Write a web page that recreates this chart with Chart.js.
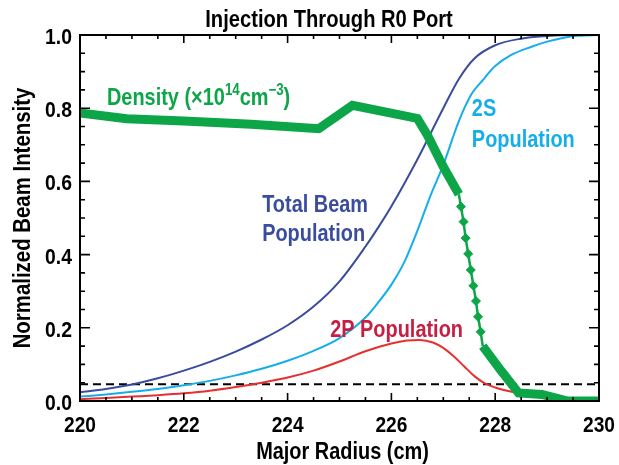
<!DOCTYPE html>
<html><head><meta charset="utf-8">
<script src="https://cdn.jsdelivr.net/npm/chart.js@4.4.1/dist/chart.umd.min.js"></script>
<style>html,body{margin:0;padding:0;background:#fff;}canvas{display:block;}</style>
</head><body>
<canvas id="c" width="619" height="465" style="width:619px;height:465px"></canvas>
<script>
const FONT = '"Liberation Sans", Arial, Helvetica, sans-serif';

// ---- data ----
const xTicks = [220, 222, 224, 226, 228, 230];
const yTicks = [0.0, 0.2, 0.4, 0.6, 0.8, 1.0];

const totalX = [220, 220.5, 221, 221.5, 222, 222.5, 223, 223.5, 224, 224.5, 225, 225.5, 225.75, 226, 226.5, 227, 227.3, 227.6, 228, 228.5, 229, 229.5, 230];
const totalY = [0.024, 0.033, 0.045, 0.062, 0.083, 0.107, 0.135, 0.168, 0.207, 0.258, 0.327, 0.422, 0.475, 0.532, 0.66, 0.80, 0.88, 0.936, 0.972, 0.99, 0.997, 1.0, 1.0];

const s2X = [220, 220.5, 221, 221.5, 222, 222.5, 223, 223.5, 224, 224.5, 225, 225.5, 225.75, 226, 226.25, 226.5, 226.75, 227, 227.3, 227.55, 227.75, 228, 228.3, 228.7, 229, 229.3, 229.6, 230];
const s2Y = [0.012, 0.018, 0.025, 0.033, 0.043, 0.055, 0.07, 0.088, 0.11, 0.137, 0.172, 0.228, 0.27, 0.318, 0.38, 0.465, 0.56, 0.645, 0.765, 0.84, 0.875, 0.915, 0.945, 0.968, 0.982, 0.992, 0.998, 1.0];

const p2X = [220, 220.5, 221, 221.5, 222, 222.5, 223, 223.5, 224, 224.5, 225, 225.5, 226, 226.3, 226.55, 226.8, 227.0, 227.2, 227.4, 227.6, 227.8, 228.0, 228.3, 228.6, 228.9, 229.3, 229.6, 230];
const p2Y = [0.005, 0.008, 0.012, 0.016, 0.021, 0.028, 0.038, 0.05, 0.064, 0.083, 0.108, 0.136, 0.157, 0.165, 0.167, 0.16, 0.145, 0.122, 0.095, 0.068, 0.048, 0.037, 0.026, 0.018, 0.01, 0.003, 0.0, 0.0];

const densAX = [220, 220.9, 222.0, 223.3, 224.6, 225.25, 226.5, 226.7, 227.0, 227.3];
const densAY = [0.787, 0.771, 0.765, 0.756, 0.744, 0.808, 0.772, 0.725, 0.64, 0.565];
const densMX = [227.34, 227.39, 227.43, 227.48, 227.53, 227.58, 227.63, 227.67, 227.72];
const densMY = [0.531, 0.49, 0.445, 0.402, 0.358, 0.315, 0.273, 0.23, 0.189];
const densBX = [227.76, 228.1, 228.45, 228.9, 229.4, 230];
const densBY = [0.15, 0.085, 0.022, 0.018, 0.0, 0.0];

const dashX = [220, 230];
const dashY = [0.046, 0.046];

// ---- colours ----
const C_TOTAL = '#3a4c9e', C_2S = '#16aee9', C_2P = '#e6302f', C_2PTXT = '#c61f44', C_GREEN = '#0ca548';

const pts = (xs, ys) => xs.map((v, i) => ({x: v, y: ys[i]}));
const sparseData = [pts(densAX, densAY).slice(-1)[0], ...pts(densMX, densMY), pts(densBX, densBY)[0]];

// narrow (condensed) bold text helper
function narrow(ctx, text, x, y, size, sx, align, color) {
  ctx.save();
  ctx.font = `bold ${size}px ${FONT}`;
  ctx.fillStyle = color || '#000';
  ctx.textAlign = align || 'left';
  ctx.textBaseline = 'alphabetic';
  ctx.translate(x, y);
  ctx.scale(sx, 1);
  ctx.fillText(text, 0, 0);
  const w = ctx.measureText(text).width * sx;
  ctx.restore();
  return w;
}

const frame = {
  id: 'frame',
  afterDatasetsDraw(chart) {
    const {ctx, chartArea: a, scales: {x, y}} = chart;
    ctx.save();
    ctx.strokeStyle = '#000';
    ctx.lineWidth = 2;
    ctx.strokeRect(a.left, a.top, a.right - a.left, a.bottom - a.top);
    ctx.lineWidth = 1.6;
    ctx.beginPath();
    for (let i = 0; i <= 20; i++) {
      const px = x.getPixelForValue(220 + i * 0.5);
      const len = (i % 4 === 0) ? 8 : 4;
      ctx.moveTo(px, a.bottom); ctx.lineTo(px, a.bottom - len);
      ctx.moveTo(px, a.top); ctx.lineTo(px, a.top + len);
    }
    for (let i = 0; i <= 20; i++) {
      const py = y.getPixelForValue(i * 0.05);
      const len = (i % 4 === 0) ? 10 : 5;
      ctx.moveTo(a.left, py); ctx.lineTo(a.left + len, py);
      ctx.moveTo(a.right, py); ctx.lineTo(a.right - len, py);
    }
    ctx.stroke();
    ctx.restore();

    // tick labels from the library's scales
    x.ticks.forEach(t => narrow(ctx, String(t.value), x.getPixelForValue(t.value), a.bottom + 31, 22, 0.87, 'center'));
    y.ticks.forEach(t => narrow(ctx, Number(t.value).toFixed(1), a.left - 8, y.getPixelForValue(t.value) + 9, 22, 0.88, 'right'));

    // curve labels
    const S = 0.83;
    narrow(ctx, 'Total Beam', x.getPixelForValue(223.51), y.getPixelForValue(0.516), 24, S, 'left', C_TOTAL);
    narrow(ctx, 'Population', x.getPixelForValue(223.51), y.getPixelForValue(0.437), 24, S, 'left', C_TOTAL);
    narrow(ctx, '2S', x.getPixelForValue(227.55), y.getPixelForValue(0.779), 24, S, 'left', C_2S);
    narrow(ctx, 'Population', x.getPixelForValue(227.55), y.getPixelForValue(0.694), 24, S, 'left', C_2S);
    narrow(ctx, '2P Population', x.getPixelForValue(224.82), y.getPixelForValue(0.175), 24, S, 'left', C_2PTXT);
    let px = x.getPixelForValue(220.52);
    const py = y.getPixelForValue(0.809);
    const parts = [['Density (\u00d710', 24, 0], ['14', 16, -10], ['cm', 24, 0], ['\u22123', 16, -10], [')', 24, 0]];
    for (const [t, sz, dy] of parts) px += narrow(ctx, t, px, py + dy, sz, S, 'left', C_GREEN);
  },
  afterDraw(chart) {
    const {ctx, chartArea: a} = chart;
    narrow(ctx, 'Injection Through R0 Port', 329, 27, 24, 0.84, 'center');
    narrow(ctx, 'Major Radius (cm)', (a.left + a.right) / 2 + 3, 459, 24, 0.83, 'center');
    ctx.save();
    ctx.translate(30, (a.top + a.bottom) / 2);
    ctx.rotate(-Math.PI / 2);
    narrow(ctx, 'Normalized Beam Intensity', 0, 0, 24, 0.85, 'center');
    ctx.restore();
  }
};

const lineDs = (label, data, color, order) => ({
  label, data, borderColor: color, backgroundColor: color, borderWidth: 2,
  pointRadius: 0, cubicInterpolationMode: 'monotone', order, clip: 0
});

new Chart(document.getElementById('c'), {
  type: 'line',
  data: {
    datasets: [
      {label: 'Density A', data: pts(densAX, densAY), borderColor: C_GREEN, borderWidth: 9, pointRadius: 0, tension: 0, order: 0, clip: 0, borderJoinStyle: 'miter'},
      {label: 'Density markers', data: sparseData, borderColor: C_GREEN, backgroundColor: C_GREEN, borderWidth: 2.5, tension: 0, order: 0, clip: 0,
       pointStyle: 'rectRot', pointBorderWidth: 1, pointBorderColor: C_GREEN, pointBackgroundColor: C_GREEN,
       pointRadius: (c) => (c.dataIndex === 0 || c.dataIndex === sparseData.length - 1) ? 0 : 4.5},
      {label: 'Density B', data: pts(densBX, densBY), borderColor: C_GREEN, borderWidth: 9, pointRadius: 0, tension: 0, order: 0, clip: 0, borderJoinStyle: 'miter'},
      lineDs('Total Beam', pts(totalX, totalY), C_TOTAL, 2),
      lineDs('2S', pts(s2X, s2Y), C_2S, 2),
      lineDs('2P', pts(p2X, p2Y), C_2P, 2),
      {label: 'threshold', data: pts(dashX, dashY), borderColor: '#000', borderWidth: 2, borderDash: [8, 5], pointRadius: 0, order: 3, clip: 0}
    ]
  },
  options: {
    responsive: false, animation: false, devicePixelRatio: 1,
    layout: {padding: {top: 35, right: 20, left: 0, bottom: 0}, autoPadding: false},
    plugins: {legend: {display: false}, tooltip: {enabled: false}, title: {display: false}},
    scales: {
      x: {
        type: 'linear', min: 220, max: 230,
        grid: {display: false}, border: {display: false},
        afterBuildTicks: (s) => { s.ticks = xTicks.map(v => ({value: v})); },
        ticks: {display: false},
        afterFit: (s) => { s.height = 64; }
      },
      y: {
        type: 'linear', min: 0, max: 1,
        grid: {display: false}, border: {display: false},
        afterBuildTicks: (s) => { s.ticks = yTicks.map(v => ({value: v})); },
        ticks: {display: false},
        afterFit: (s) => { s.width = 80; }
      }
    }
  },
  plugins: [frame]
});
</script>
</body></html>
